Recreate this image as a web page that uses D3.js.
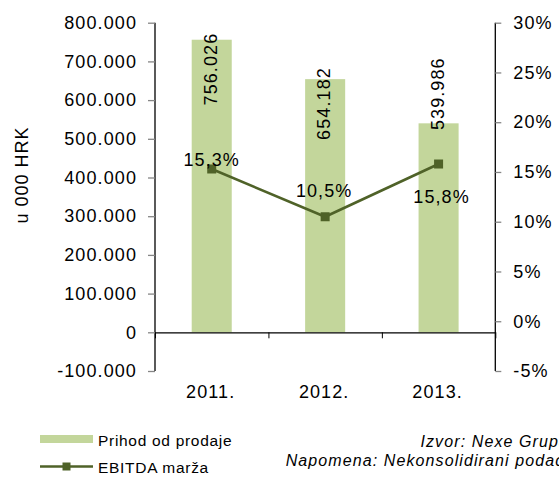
<!DOCTYPE html>
<html>
<head>
<meta charset="utf-8">
<script src="https://cdn.jsdelivr.net/npm/d3@7"></script>
<style>
  body { margin: 0; background: #fff; }
  svg text { font-family: "Liberation Sans", Arial, sans-serif; fill: #000; }
</style>
</head>
<body>
<div id="chart"></div>
<script>
// podaci
const years = ["2011.", "2012.", "2013."];
const prihod = [756026, 654182, 539986];      // u 000 HRK
const ebitdaMarza = [15.3, 10.5, 15.8];        // %
const leftTicks = [-100000, 0, 100000, 200000, 300000, 400000, 500000, 600000, 700000, 800000];
const rightTicks = [-5, 0, 5, 10, 15, 20, 25, 30];

// ručno pomaknute oznake (px), kao u originalu
const barLabelShift = [-7, -12, -66];
const pctLabelDy = [-3, -20, 39];
const pctLabelDx = [0, -1, 3];

const width = 559, height = 477;
const plot = { left: 155, right: 495.3, top: 22.7, bottom: 371 };

const hr = d3.formatLocale({ decimal: ",", thousands: ".", grouping: [3], currency: ["", ""], minus: "-" });
const fmtThousands = hr.format(",");
const fmtPct = hr.format(".1f");

const svg = d3.select("#chart").append("svg")
    .attr("width", width)
    .attr("height", height);

const x = d3.scaleBand()
    .domain(years)
    .range([plot.left, plot.right])
    .paddingInner(0.647)
    .paddingOuter(0.3235);

const yL = d3.scaleLinear().domain([-100000, 800000]).range([plot.bottom, plot.top]);
const yR = d3.scaleLinear().domain([-5, 30]).range([plot.bottom, plot.top]);

const green = "#c3d69b";
const olive = "#4f6228";
const tickGray = "#868686";

// stupci
svg.selectAll(".bar")
    .data(prihod)
    .enter()
    .append("rect")
    .attr("class", "bar")
    .attr("x", (d, i) => x(years[i]))
    .attr("y", d => yL(d))
    .attr("width", x.bandwidth())
    .attr("height", d => yL(0) - yL(d))
    .attr("fill", green);

// lijeva os
const axL = svg.append("g")
    .attr("transform", `translate(${plot.left},0)`)
    .call(d3.axisLeft(yL).tickValues(leftTicks).tickSize(7).tickPadding(11).tickFormat(fmtThousands));

// desna os
const axR = svg.append("g")
    .attr("transform", `translate(${plot.right},0)`)
    .call(d3.axisRight(yR).tickValues(rightTicks).tickSize(6).tickPadding(12).tickFormat(d => hr.format("d")(d) + "%"));

[axL, axR].forEach(ax => {
    ax.select(".domain").attr("stroke", "#000").attr("stroke-width", 1.3).attr("d",
        `M0,${plot.top}V${plot.bottom}`);
    ax.selectAll(".tick line").attr("stroke", tickGray).attr("stroke-width", 1.3);
    ax.selectAll(".tick text")
        .attr("font-size", 18)
        .attr("letter-spacing", 1.1)
        .attr("fill", "#000");
});

// x os (granice kategorija)
const bx = d3.scaleLinear().domain([0, years.length]).range([plot.left, plot.right]);
const axX = svg.append("g")
    .attr("transform", `translate(0,${yL(0)})`)
    .call(d3.axisBottom(bx).tickValues(d3.range(years.length + 1)).tickSize(6).tickSizeOuter(0).tickFormat(""));
axX.select(".domain").attr("stroke", "#000").attr("stroke-width", 1.3);
axX.selectAll(".tick line").attr("stroke", "#000").attr("stroke-width", 1);

svg.selectAll(".year")
    .data(years)
    .enter()
    .append("text")
    .attr("class", "year")
    .attr("x", d => x(d) + x.bandwidth() / 2 - 1)
    .attr("y", 398)
    .attr("text-anchor", "middle")
    .attr("font-size", 18)
    .attr("letter-spacing", 1.1)
    .text(d => d);

// naslov osi
svg.append("text")
    .attr("transform", "translate(21.5,175) rotate(-90)")
    .attr("text-anchor", "middle")
    .attr("dominant-baseline", "central")
    .attr("font-size", 18)
    .attr("letter-spacing", 1)
    .text("u 000 HRK");

// oznake stupaca
svg.selectAll(".barLabel")
    .data(prihod)
    .enter()
    .append("text")
    .attr("class", "barLabel")
    .attr("transform", (d, i) => `translate(${x(years[i]) + x.bandwidth() / 2 - 1},${yL(d) + barLabelShift[i]}) rotate(-90)`)
    .attr("text-anchor", "end")
    .attr("dominant-baseline", "central")
    .attr("font-size", 18)
    .attr("letter-spacing", 1.1)
    .text(d => fmtThousands(d));

// linija EBITDA marže
const line = d3.line()
    .x((d, i) => x(years[i]) + x.bandwidth() / 2)
    .y(d => yR(d));

svg.append("path")
    .datum(ebitdaMarza)
    .attr("d", line)
    .attr("fill", "none")
    .attr("stroke", olive)
    .attr("stroke-width", 2.6);

const ms = 9;
svg.selectAll(".marker")
    .data(ebitdaMarza)
    .enter()
    .append("rect")
    .attr("class", "marker")
    .attr("x", (d, i) => x(years[i]) + x.bandwidth() / 2 - ms / 2)
    .attr("y", d => yR(d) - ms / 2)
    .attr("width", ms)
    .attr("height", ms)
    .attr("fill", olive);

svg.selectAll(".pctLabel")
    .data(ebitdaMarza)
    .enter()
    .append("text")
    .attr("class", "pctLabel")
    .attr("x", (d, i) => x(years[i]) + x.bandwidth() / 2 + pctLabelDx[i])
    .attr("y", (d, i) => yR(d) + pctLabelDy[i])
    .attr("text-anchor", "middle")
    .attr("font-size", 18)
    .attr("letter-spacing", 1.1)
    .text(d => fmtPct(d) + "%");

// legenda
const legend = svg.append("g");
legend.append("rect")
    .attr("x", 40).attr("y", 435)
    .attr("width", 53).attr("height", 8)
    .attr("fill", green);
legend.append("text")
    .attr("x", 98).attr("y", 446)
    .attr("font-size", 15.5)
    .attr("letter-spacing", 0.7)
    .text("Prihod od prodaje");
legend.append("line")
    .attr("x1", 40).attr("x2", 93)
    .attr("y1", 466.5).attr("y2", 466.5)
    .attr("stroke", olive).attr("stroke-width", 2.6);
legend.append("rect")
    .attr("x", 66.5 - 4).attr("y", 466.5 - 4)
    .attr("width", 8).attr("height", 8)
    .attr("fill", olive);
legend.append("text")
    .attr("x", 98).attr("y", 472.5)
    .attr("font-size", 15.5)
    .attr("letter-spacing", 0.7)
    .text("EBITDA marža");

// izvor
const src = svg.append("g")
    .attr("font-style", "italic")
    .attr("font-size", 16)
    .attr("letter-spacing", 1.1)
    .attr("text-anchor", "end");
src.append("text").attr("x", 569).attr("y", 447).text("Izvor: Nexe Grupa");
src.append("text").attr("x", 569).attr("y", 465.5).text("Napomena: Nekonsolidirani podaci");
</script>
</body>
</html>
